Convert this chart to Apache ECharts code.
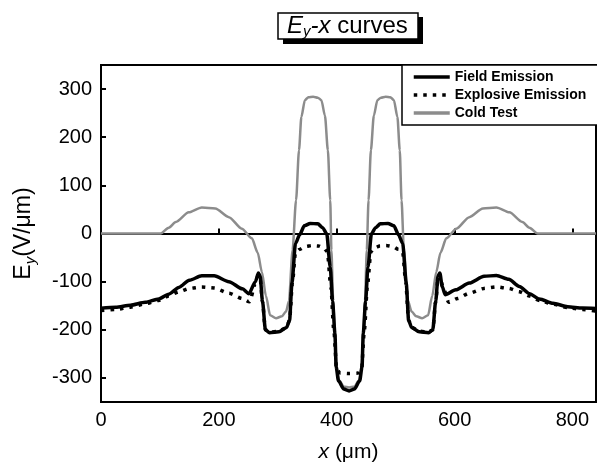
<!DOCTYPE html>
<html>
<head>
<meta charset="utf-8">
<script src="https://cdn.jsdelivr.net/npm/echarts@6/dist/echarts.min.js"></script>
<style>
    html, body { margin: 0; padding: 0; background: #fff; }
    #chart { width: 597px; height: 468px; }
</style>
</head>
<body>
<div id="chart"></div>
<script>
    "use strict";

    // tick labels
    var xTicks = [0, 200, 400, 600, 800];
    var yTicks = [-300, -200, -100, 0, 100, 200, 300];

    var seriesNames = ['Field Emission', 'Explosive Emission', 'Cold Test'];

    // [x (um), Ey (V/um)]
    var fieldEmission = [
        [0, -155], [25, -153], [50, -149], [75, -143], [98, -136], [115, -126], [132, -112],
        [150, -97], [171, -88], [192, -88], [217, -100], [240, -115], [251, -125], [262, -100],
        [267, -82], [270, -88], [274, -140], [279, -200], [286, -206], [302, -204], [315, -195],
        [320, -180], [324, -104], [330, -21], [337, -3], [345, 16], [355, 21], [368, 20],
        [376, 12], [383, 0], [389, -70], [393, -140], [397, -208], [399, -277], [403, -306],
        [412, -323], [421, -327], [430, -323], [439, -306], [443, -277], [445, -208],
        [449, -140], [453, -70], [459, 0], [466, 12], [474, 20], [487, 21], [497, 16],
        [505, -3], [512, -21], [518, -104], [522, -180], [527, -195], [540, -204],
        [556, -206], [563, -200], [568, -140], [572, -88], [575, -82], [579, -110],
        [584, -127], [602, -117], [625, -103], [650, -89], [671, -87], [692, -95],
        [710, -110], [727, -125], [744, -136], [767, -145], [792, -152], [817, -155], [840, -156]
    ];

    var explosiveEmission = [
        [0, -160], [25, -158], [50, -153], [75, -146], [98, -139], [115, -130], [132, -121],
        [150, -114], [171, -111], [192, -113], [217, -124], [240, -135], [252, -142],
        [262, -104], [267, -86], [270, -92], [274, -142], [279, -200], [286, -205], [302, -203],
        [315, -195], [320, -180], [325, -100], [330, -40], [337, -33], [347, -27], [358, -25],
        [369, -26], [378, -30], [384, -38], [390, -110], [395, -200], [400, -283], [406, -290],
        [421, -291], [436, -290], [442, -283], [447, -200], [452, -110], [458, -38],
        [464, -30], [473, -26], [484, -25], [495, -27], [505, -33], [512, -40], [517, -100],
        [522, -180], [527, -195], [540, -203], [556, -205], [563, -200], [568, -142],
        [572, -92], [575, -86], [580, -110], [590, -143], [605, -135], [625, -124],
        [650, -114], [671, -111], [692, -114], [710, -121], [727, -130], [744, -139],
        [767, -147], [792, -154], [817, -158], [840, -161]
    ];

    var coldTest = [
        [0, 0], [101, 0], [115, 12], [127, 24], [149, 44], [171, 54], [194, 52], [217, 34],
        [239, 10], [256, -10], [266, -40], [273, -80], [280, -130], [287, -170], [297, -176],
        [307, -172], [314, -162], [319, -140], [325, -35], [331, 69], [336, 173], [340, 242],
        [346, 277], [352, 283], [360, 284], [368, 282], [374, 277], [380, 245], [385, 173],
        [389, 69], [391, -35], [394, -140], [397, -220], [400, -280], [404, -305], [412, -318],
        [421, -320], [430, -318], [438, -305], [442, -280], [445, -220], [448, -140],
        [451, -35], [454, 69], [458, 173], [463, 245], [469, 277], [475, 282], [483, 284],
        [491, 283], [497, 277], [503, 242], [507, 173], [510, 69], [514, -35], [521, -140],
        [527, -162], [535, -172], [545, -176], [555, -170], [562, -130], [569, -80],
        [576, -40], [586, -10], [603, 10], [625, 34], [648, 52], [671, 54], [693, 44],
        [715, 24], [727, 12], [741, 0], [840, 0]
    ];

    var fontName = '"Liberation Sans", Arial, sans-serif';

    var option = {
        backgroundColor: '#fff',
        animation: false,
        // drop shadow behind the boxed title
        graphic: [
            {
                type: 'rect',
                z: 0,
                silent: true,
                shape: { x: 283, y: 17, width: 140, height: 27 },
                style: { fill: '#000' }
            }
        ],
        title: {
            text: '{i|E}{s|y}{i|-x}{n| curves}',
            left: 278,
            top: 12,
            z: 10,
            padding: [1, 10, 0, 9],
            borderColor: '#000',
            borderWidth: 1.5,
            backgroundColor: '#fff',
            textStyle: {
                fontFamily: fontName,
                fontSize: 24,
                fontWeight: 'normal',
                color: '#000',
                rich: {
                    i: { fontFamily: fontName, fontSize: 24, fontStyle: 'italic', lineHeight: 26 },
                    n: { fontFamily: fontName, fontSize: 24, lineHeight: 26 },
                    s: { fontFamily: fontName, fontSize: 15, fontStyle: 'italic', lineHeight: 13, verticalAlign: 'bottom' }
                }
            }
        },
        legend: {
            data: seriesNames,
            orient: 'vertical',
            left: 402,
            top: 65,
            padding: [5, 14, 5, 10],
            itemGap: 4,
            itemWidth: 36,
            itemHeight: 14,
            borderColor: '#000',
            borderWidth: 1.5,
            borderRadius: 0,
            backgroundColor: '#fff',
            itemStyle: { color: 'transparent', borderWidth: 0, opacity: 0 },
            lineStyle: { width: 3.5 },
            textStyle: {
                fontFamily: fontName,
                fontSize: 14,
                fontWeight: 'bold',
                color: '#000'
            }
        },
        grid: {
            show: true,
            left: 101,
            right: 1,
            top: 65,
            bottom: 65,
            borderColor: '#000',
            borderWidth: 2,
            backgroundColor: 'transparent'
        },
        xAxis: {
            type: 'value',
            min: 0,
            max: 840,
            name: '{i|x}{n| (μm)}',
            nameLocation: 'middle',
            nameGap: 40,
            nameTextStyle: {
                color: '#000',
                rich: {
                    i: { fontFamily: fontName, fontSize: 21, fontStyle: 'italic' },
                    n: { fontFamily: fontName, fontSize: 21 }
                }
            },
            axisLine: { lineStyle: { color: '#000', width: 2 } },
            axisTick: { inside: true, length: 5, customValues: xTicks, lineStyle: { color: '#000', width: 2 } },
            axisLabel: {
                customValues: xTicks,
                margin: 8,
                fontFamily: fontName,
                fontSize: 20,
                color: '#000'
            },
            splitLine: { show: false }
        },
        yAxis: {
            type: 'value',
            min: -350,
            max: 350,
            name: '{n|E}{s|y}{n|(V/μm)}',
            nameLocation: 'middle',
            nameGap: 63,
            nameTextStyle: {
                color: '#000',
                rich: {
                    n: { fontFamily: fontName, fontSize: 23, lineHeight: 28 },
                    s: { fontFamily: fontName, fontSize: 15, fontStyle: 'italic', lineHeight: 14, verticalAlign: 'bottom' }
                }
            },
            axisLine: { lineStyle: { color: '#000', width: 2 } },
            axisTick: { inside: true, length: 5, customValues: yTicks, lineStyle: { color: '#000', width: 2 } },
            axisLabel: {
                customValues: yTicks,
                margin: 9,
                fontFamily: fontName,
                fontSize: 20,
                color: '#000'
            },
            splitLine: { show: false }
        },
        series: [
            {
                name: 'Cold Test',
                type: 'line',
                data: coldTest,
                symbol: 'none',
                smooth: 0.25,
                smoothMonotone: 'x',
                lineStyle: { color: '#8c8c8c', width: 2.5 },
                itemStyle: { color: '#8c8c8c' }
            },
            {
                name: 'Explosive Emission',
                type: 'line',
                data: explosiveEmission,
                symbol: 'none',
                smooth: 0.25,
                smoothMonotone: 'x',
                lineStyle: { color: '#000', width: 3.5, type: [3.5, 6], cap: 'butt' },
                itemStyle: { color: '#000' }
            },
            {
                name: 'Field Emission',
                type: 'line',
                data: fieldEmission,
                symbol: 'none',
                smooth: 0.25,
                smoothMonotone: 'x',
                lineStyle: { color: '#000', width: 3.5 },
                itemStyle: { color: '#000' }
            }
        ]
    };

    var myChart = echarts.init(document.getElementById('chart'), null, { renderer: 'canvas' });
    myChart.setOption(option);
</script>
</body>
</html>
